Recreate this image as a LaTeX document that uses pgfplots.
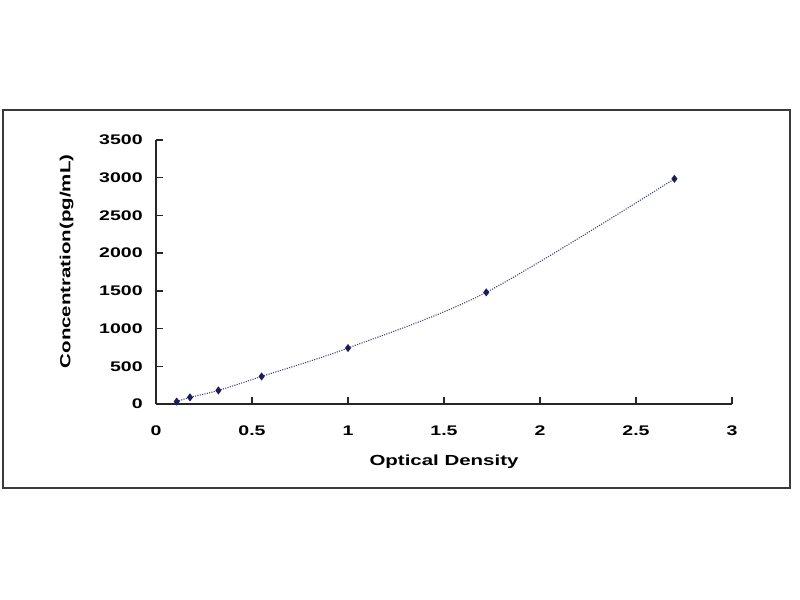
\documentclass[border=0pt]{standalone}
\usepackage{pgfplots}
\pgfplotsset{compat=1.18}
\usepackage{fontspec}
\setmainfont{Liberation Sans}[FakeStretch=1.4]
\definecolor{navy}{HTML}{1C1C5A}
\definecolor{framegray}{HTML}{3A3A3A}
\begin{document}
\begin{tikzpicture}[x=1bp,y=1bp]
  \path[use as bounding box] (0,0) rectangle (600,450);
  \fill[white] (0,0) rectangle (600,450);
  \draw[framegray, line width=1.6bp] (2.5,84) rectangle (592.5,367.5);
  \begin{axis}[
    at={(117bp,147bp)},
    anchor=south west,
    scale only axis,
    width=432bp,
    height=198bp,
    xmin=0, xmax=3,
    ymin=0, ymax=3500,
    xtick={0,0.5,...,3},
    ytick={0,500,...,3500},
    axis lines=left,
    axis line style={-, black!85, line width=1.2bp},
    tick style={black!85, line width=1bp},
    tick align=inside,
    major tick length=5bp,
    font=\bfseries\fontsize{10.5}{12}\selectfont,
    /pgf/number format/assume math mode=true,
    /pgf/number format/1000 sep={},
    xticklabel style={yshift=-13bp},
    yticklabel style={xshift=-6.5bp},
    xlabel={Optical Density},
    ylabel={Concentration(pg/mL)},
    xlabel style={font=\bfseries\fontsize{11}{13}\selectfont,
      at={(axis description cs:0.5,-0.22)}, anchor=center},
    ylabel style={font=\bfseries\fontsize{11}{13}\selectfont,
      at={(axis description cs:-0.155,0.54)}, anchor=center, rotate=0},
    clip=false,
  ]
    \addplot[navy!85, densely dotted, line width=0.8bp, smooth, tension=0.5,
      mark=diamond*, mark size=2.4bp, mark options={solid, fill=navy, draw=navy}]
      coordinates {
        (0.108,32)
        (0.177,88)
        (0.325,180)
        (0.55,365)
        (1.0,742)
        (1.72,1480)
        (2.70,2985)
      };
  \end{axis}
\end{tikzpicture}
\end{document}
